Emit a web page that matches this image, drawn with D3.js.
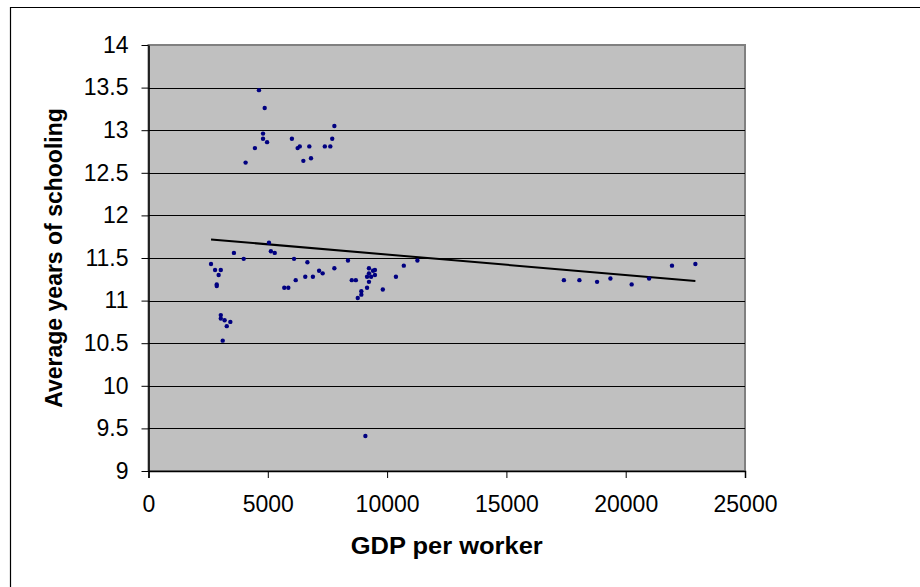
<!DOCTYPE html>
<html>
<head>
<meta charset="utf-8">
<script src="https://cdn.jsdelivr.net/npm/d3@7"></script>
<style>
  body { margin: 0; background: #fff; }
  svg { display: block; font-family: "Liberation Sans", Arial, sans-serif; }
</style>
</head>
<body>
<div id="chart"></div>
<script>
// values
const gdpPerWorker = [
    4630, 4870, 4800, 4800, 4970, 4460, 4070, 6010, 6250, 6340,
    6490, 6740, 6810, 7390, 7620, 7700, 7790, 2620, 2790, 3030,
    2940, 2860, 2860, 3030, 3030, 3190, 3280, 3430, 3110, 3580,
    3990, 5050, 5130, 5290, 6100, 6170, 5690, 5860, 6570, 6660,
    6890, 7150, 7300, 7790, 8360, 8520, 8690, 8770, 8920, 8920,
    9160, 9240, 9160, 9330, 9240, 9240, 9410, 9490, 9490, 9820,
    10370, 10700, 11270, 9090, 17410, 18060, 18800, 19360, 20250, 20980,
    21940, 22920
];
const schooling = [
    13.47, 13.26, 12.96, 12.90, 12.86, 12.79, 12.62, 12.90, 12.79, 12.81,
    12.64, 12.81, 12.67, 12.81, 12.81, 12.90, 13.05, 11.43, 11.36, 11.36,
    11.30, 11.19, 11.17, 10.83, 10.79, 10.77, 10.70, 10.75, 10.53, 11.56,
    11.49, 11.68, 11.58, 11.56, 11.49, 11.24, 11.15, 11.15, 11.28, 11.45,
    11.28, 11.35, 11.32, 11.38, 11.47, 11.24, 11.24, 11.03, 11.07, 11.11,
    11.15, 11.22, 11.28, 11.28, 11.32, 11.38, 11.35, 11.36, 11.30, 11.13,
    11.28, 11.41, 11.47, 9.41, 11.24, 11.24, 11.22, 11.26, 11.19, 11.26,
    11.41, 11.43
];
// linear trendline
const trendIntercept = 11.781;
const trendSlope = -0.00002406;

const xTicks = [0, 5000, 10000, 15000, 20000, 25000];
const yTicks = [9, 9.5, 10, 10.5, 11, 11.5, 12, 12.5, 13, 13.5, 14];

const width = 920;
const height = 587;
const plot = {left: 148.5, right: 745, top: 45, bottom: 471};

const svg = d3.select('#chart')
    .append('svg')
        .attr('width', width)
        .attr('height', height);

// chart frame (only top/left edges fall inside the picture)
svg.append('path')
    .attr('d', `M10.5,${height + 5}V7.5H${width + 5}`)
    .attr('fill', 'none')
    .attr('stroke', '#000')
    .attr('stroke-width', 1.2);

// scales
const x = d3.scaleLinear()
    .domain([0, 25000])
    .range([plot.left, plot.right]);
const y = d3.scaleLinear()
    .domain([9, 14])
    .range([plot.bottom, plot.top]);
const crisp = v => Math.round(v) + 0.5;

// plot area
svg.append('rect')
    .attr('x', plot.left)
    .attr('y', plot.top)
    .attr('width', plot.right - plot.left)
    .attr('height', plot.bottom - plot.top)
    .attr('fill', '#c0c0c0')
    .attr('stroke', '#808080')
    .attr('stroke-width', 2);

// gridlines
svg.append('g')
    .selectAll('line')
    .data(yTicks.filter(d => d > 9 && d < 14))
    .join('line')
        .attr('x1', plot.left)
        .attr('x2', plot.right)
        .attr('y1', d => crisp(y(d)))
        .attr('y2', d => crisp(y(d)))
        .attr('stroke', '#000')
        .attr('stroke-width', 1);

// axes
const xAxis = g => g
    .attr('transform', `translate(0, ${crisp(plot.bottom) - 0.5})`)
    .call(d3.axisBottom(x).tickValues(xTicks).tickSize(7).tickPadding(18)
        .tickFormat(d3.format('d')))
    .call(g => g.select('.domain').attr('stroke-width', 1.5))
    .call(g => g.selectAll('.tick text')
        .attr('font-size', 23)
        .attr('font-family', '"Liberation Sans", Arial, sans-serif')
        .attr('fill', '#000'));
const yAxis = g => g
    .attr('transform', `translate(${plot.left}, 0)`)
    .call(d3.axisLeft(y).tickValues(yTicks).tickSize(7).tickPadding(13)
        .tickSizeOuter(0).tickFormat(d => String(d)))
    .call(g => g.select('.domain').attr('stroke-width', 1.5))
    .call(g => g.selectAll('.tick text')
        .attr('font-size', 23)
        .attr('font-family', '"Liberation Sans", Arial, sans-serif')
        .attr('fill', '#000'));

svg.append('g').call(xAxis);
svg.append('g').call(yAxis);

// trendline
const xExt = d3.extent(gdpPerWorker);
svg.append('line')
    .attr('x1', x(xExt[0]))
    .attr('y1', y(trendIntercept + trendSlope * xExt[0]))
    .attr('x2', x(xExt[1]))
    .attr('y2', y(trendIntercept + trendSlope * xExt[1]))
    .attr('stroke', '#000')
    .attr('stroke-width', 2);

// points
svg.append('g')
    .selectAll('circle')
    .data(d3.range(gdpPerWorker.length))
    .join('circle')
        .attr('cx', i => x(gdpPerWorker[i]))
        .attr('cy', i => y(schooling[i]))
        .attr('r', 2.2)
        .attr('fill', '#000080');

// titles
svg.append('text')
    .attr('x', (plot.left + plot.right) / 2)
    .attr('y', 554)
    .attr('text-anchor', 'middle')
    .attr('font-size', 23)
    .attr('font-weight', 'bold')
    .attr('textLength', 192)
    .attr('lengthAdjust', 'spacingAndGlyphs')
    .text('GDP per worker');
svg.append('text')
    .attr('transform', `translate(62, ${(plot.top + plot.bottom) / 2}) rotate(-90)`)
    .attr('text-anchor', 'middle')
    .attr('font-size', 23)
    .attr('font-weight', 'bold')
    .text('Average years of schooling');
</script>
</body>
</html>
